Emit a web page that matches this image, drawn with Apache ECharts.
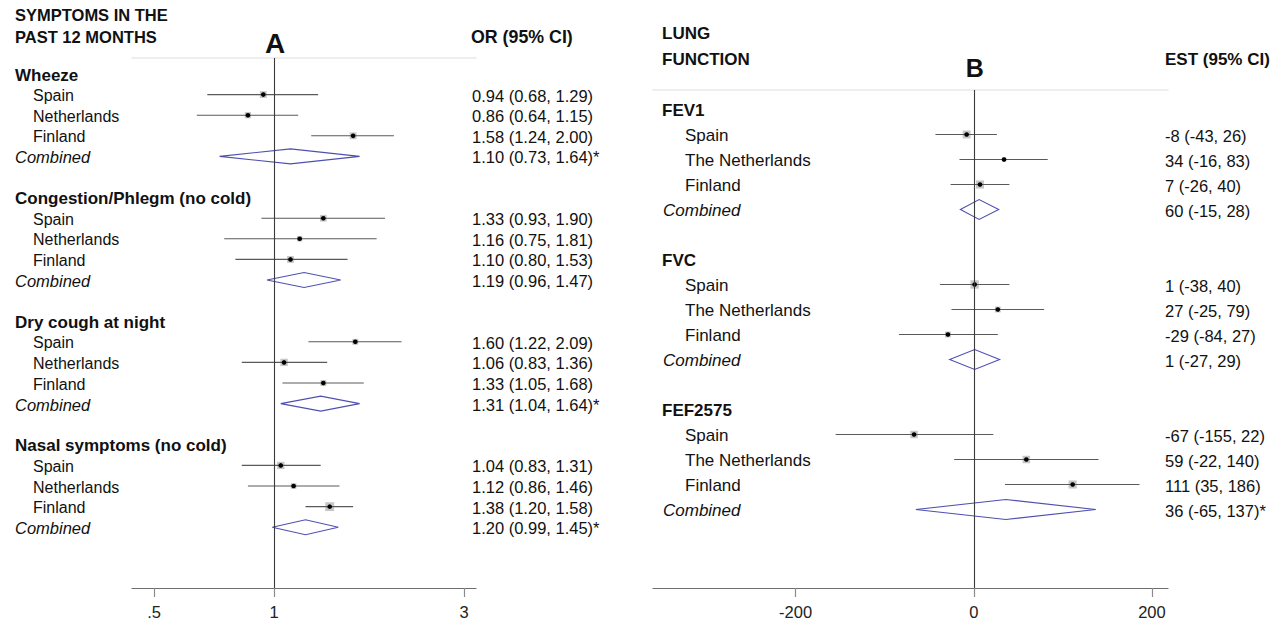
<!DOCTYPE html>
<html><head><meta charset="utf-8">
<script src="https://cdn.jsdelivr.net/npm/echarts@6/dist/echarts.min.js"></script>
<style>html,body{margin:0;padding:0;background:#fff}#c{width:1277px;height:625px}</style>
</head><body><div id="c"></div>
<script>
// ---------- Panel A : symptoms in the past 12 months (odds ratios) ----------
const leftGroups = ['Wheeze', 'Congestion/Phlegm (no cold)', 'Dry cough at night', 'Nasal symptoms (no cold)'];
const leftCountries = ['Spain', 'Netherlands', 'Finland'];
const leftOR = [0.94, 0.86, 1.58, 1.33, 1.16, 1.10, 1.60, 1.06, 1.33, 1.04, 1.12, 1.38];
const leftLo = [0.68, 0.64, 1.24, 0.93, 0.75, 0.80, 1.22, 0.83, 1.05, 0.83, 0.86, 1.20];
const leftHi = [1.29, 1.15, 2.00, 1.90, 1.81, 1.53, 2.09, 1.36, 1.68, 1.31, 1.46, 1.58];
const leftWeight = [30, 25, 30, 28, 18, 30, 22, 35, 22, 34, 20, 50];
const leftCombOR = [1.10, 1.19, 1.31, 1.20];
const leftCombLo = [0.73, 0.96, 1.04, 0.99];
const leftCombHi = [1.64, 1.47, 1.64, 1.45];
const leftCombMark = ['*', '', '*', '*'];
const leftTicks = [0.5, 1, 3];
const leftTickLabels = ['.5', '1', '3'];
const leftRange = [0.44, 3.215];

// ---------- Panel B : lung function (estimates) ----------
const rightGroups = ['FEV1', 'FVC', 'FEF2575'];
const rightCountries = ['Spain', 'The Netherlands', 'Finland'];
const rightEst = [-8, 34, 7, 1, 27, -29, -67, 59, 111];
const rightLo = [-43, -16, -26, -38, -25, -84, -155, -22, 35];
const rightHi = [26, 83, 40, 40, 79, 27, 22, 140, 186];
const rightWeight = [40, 12, 42, 45, 22, 22, 36, 36, 42];
const rightCombEst = [6, 1, 36];
const rightCombLo = [-15, -27, -65];
const rightCombHi = [28, 29, 137];
const rightCombLabels = ['60 (-15, 28)', '1 (-27, 29)', '36 (-65, 137)*'];
const rightTicks = [-200, 0, 200];
const rightTickLabels = ['-200', '0', '200'];
const rightRange = [-360, 218];

const FONT = "'Liberation Sans', Arial, Helvetica, sans-serif";
const ln = Math.log;

// row layout: heading, 3 countries, combined, blank
function rowsFor(nGroups) {
  const out = [];
  for (let g = 0; g < nGroups; g++) out.push({ head: g * 6, countries: [g * 6 + 1, g * 6 + 2, g * 6 + 3], comb: g * 6 + 4 });
  return out;
}
const leftRows = rowsFor(leftGroups.length);
const rightRows = rowsFor(rightGroups.length);

const leftCI = [], leftDia = [];
leftRows.forEach((r, g) => {
  r.countries.forEach((row, k) => {
    const i = g * 3 + k;
    leftCI.push([ln(leftLo[i]), ln(leftHi[i]), ln(leftOR[i]), row, leftWeight[i]]);
  });
  leftDia.push([ln(leftCombLo[g]), ln(leftCombOR[g]), ln(leftCombHi[g]), r.comb]);
});
const rightCI = [], rightDia = [];
rightRows.forEach((r, g) => {
  r.countries.forEach((row, k) => {
    const i = g * 3 + k;
    rightCI.push([rightLo[i], rightHi[i], rightEst[i], row, rightWeight[i]]);
  });
  rightDia.push([rightCombLo[g], rightCombEst[g], rightCombHi[g], r.comb]);
});

function ciItem(params, api) {
  const y = api.value(3);
  const p0 = api.coord([api.value(0), y]);
  const p1 = api.coord([api.value(1), y]);
  const pc = api.coord([api.value(2), y]);
  const s = 1.25 * Math.sqrt(api.value(4));
  return {
    type: 'group', children: [
      { type: 'rect', shape: { x: pc[0] - s / 2, y: pc[1] - s / 2, width: s, height: s }, style: { fill: '#c6c6c6' } },
      { type: 'line', shape: { x1: p0[0], y1: p0[1], x2: p1[0], y2: p1[1] }, style: { stroke: '#5a5a5a', lineWidth: 1.1 } },
      { type: 'circle', shape: { cx: pc[0], cy: pc[1], r: 2.3 }, style: { fill: '#000' } }
    ]
  };
}
function diaItem(h) {
  return function (params, api) {
    const y = api.value(3);
    const a = api.coord([api.value(0), y]);
    const c = api.coord([api.value(1), y]);
    const b = api.coord([api.value(2), y]);
    return {
      type: 'polygon',
      shape: { points: [[a[0], a[1]], [c[0], c[1] - h], [b[0], b[1]], [c[0], c[1] + h]] },
      style: { fill: 'none', stroke: '#4f4fb0', lineWidth: 1.1 }
    };
  };
}

function findLabel(v, ticks, labels, tf) {
  for (let i = 0; i < ticks.length; i++) if (Math.abs(tf(ticks[i]) - v) < 1e-6) return labels[i];
  return '';
}

const axisCommon = {
  axisLine: { onZero: false, lineStyle: { color: '#6e6e6e', width: 1.2 } },
  axisTick: { length: 9, lineStyle: { color: '#8a8a8a', width: 1.2 } },
  splitLine: { show: false },
};
const refLine = (v) => ({
  silent: true, symbol: 'none', label: { show: false },
  lineStyle: { color: '#3a3a3a', width: 1.1, type: 'solid' },
  data: [{ xAxis: v }]
});

const option = {
  animation: false,
  backgroundColor: '#fff',
  grid: [
    { left: 132, width: 344, top: 58, height: 530 },
    { left: 653, width: 515, top: 90, height: 498 }
  ],
  xAxis: [
    Object.assign({}, axisCommon, {
      type: 'value', gridIndex: 0, position: 'bottom', min: ln(leftRange[0]), max: ln(leftRange[1]),
      axisTick: Object.assign({}, axisCommon.axisTick, { customValues: leftTicks.map(ln) }),
      axisLabel: {
        customValues: leftTicks.map(ln), margin: 15, color: '#222', fontSize: 16.5, fontFamily: FONT,
        formatter: (v) => findLabel(v, leftTicks, leftTickLabels, ln)
      }
    }),
    Object.assign({}, axisCommon, {
      type: 'value', gridIndex: 1, position: 'bottom', min: rightRange[0], max: rightRange[1],
      axisTick: Object.assign({}, axisCommon.axisTick, { customValues: rightTicks }),
      axisLabel: {
        customValues: rightTicks, margin: 15, color: '#222', fontSize: 16.5, fontFamily: FONT,
        formatter: (v) => findLabel(v, rightTicks, rightTickLabels, (x) => x)
      }
    }),
    { type: 'value', gridIndex: 0, position: 'top', min: ln(leftRange[0]), max: ln(leftRange[1]),
      axisLine: { onZero: false, lineStyle: { color: '#e9e9e9', width: 1.5 } }, axisTick: { show: false }, axisLabel: { show: false }, splitLine: { show: false } },
    { type: 'value', gridIndex: 1, position: 'top', min: rightRange[0], max: rightRange[1],
      axisLine: { onZero: false, lineStyle: { color: '#e9e9e9', width: 1.5 } }, axisTick: { show: false }, axisLabel: { show: false }, splitLine: { show: false } }
  ],
  yAxis: [
    { type: 'value', gridIndex: 0, inverse: true, min: -0.777, max: 24.95, show: false },
    { type: 'value', gridIndex: 1, inverse: true, min: -0.78, max: 19.14, show: false }
  ],
  series: [
    { type: 'custom', xAxisIndex: 0, yAxisIndex: 0, renderItem: ciItem, data: leftCI, encode: { x: [0, 1, 2], y: 3 }, markLine: refLine(ln(1)), z: 3 },
    { type: 'custom', xAxisIndex: 0, yAxisIndex: 0, renderItem: diaItem(7.5), data: leftDia, encode: { x: [0, 1, 2], y: 3 }, z: 3 },
    { type: 'custom', xAxisIndex: 1, yAxisIndex: 1, renderItem: ciItem, data: rightCI, encode: { x: [0, 1, 2], y: 3 }, markLine: refLine(0), z: 3 },
    { type: 'custom', xAxisIndex: 1, yAxisIndex: 1, renderItem: diaItem(10), data: rightDia, encode: { x: [0, 1, 2], y: 3 }, z: 3 }
  ]
};

const chart = echarts.init(document.getElementById('c'), null, { renderer: 'svg' });
chart.setOption(option);

// ---------- text columns (row positions come from the y scales) ----------
function txt(text, x, y, size, opts) {
  opts = opts || {};
  return {
    type: 'text', x: x, y: y, silent: true,
    style: {
      text: text, fill: '#111', fontSize: size, fontFamily: FONT,
      fontWeight: opts.bold ? 'bold' : 'normal', fontStyle: opts.italic ? 'italic' : 'normal',
      align: opts.align || 'left', verticalAlign: 'middle',
      textAlign: opts.align || 'left', textVerticalAlign: 'middle'
    }
  };
}
const rowY = (grid, row) => chart.convertToPixel({ xAxisIndex: grid, yAxisIndex: grid }, [0, row])[1] + 1;
const els = [];
// Panel A headers
els.push(txt('SYMPTOMS IN THE', 15, 15, 16.5, { bold: true }));
els.push(txt('PAST 12 MONTHS', 15, 37, 16.5, { bold: true }));
els.push(txt('OR (95% CI)', 471, 37, 17.8, { bold: true }));
els.push(txt('A', chart.convertToPixel({ xAxisIndex: 0, yAxisIndex: 0 }, [ln(1), 0])[0] + 1, 43, 28, { bold: true, align: 'center' }));
leftRows.forEach((r, g) => {
  els.push(txt(leftGroups[g], 15, rowY(0, r.head), 17, { bold: true }));
  r.countries.forEach((row, k) => {
    const i = g * 3 + k;
    els.push(txt(leftCountries[k], 33, rowY(0, row), 16));
    els.push(txt(leftOR[i].toFixed(2) + ' (' + leftLo[i].toFixed(2) + ', ' + leftHi[i].toFixed(2) + ')', 472, rowY(0, row), 16.5));
  });
  els.push(txt('Combined', 15, rowY(0, r.comb), 16.5, { italic: true }));
  els.push(txt(leftCombOR[g].toFixed(2) + ' (' + leftCombLo[g].toFixed(2) + ', ' + leftCombHi[g].toFixed(2) + ')' + leftCombMark[g], 472, rowY(0, r.comb), 16.5));
});
// Panel B headers
els.push(txt('LUNG', 662, 33, 17, { bold: true }));
els.push(txt('FUNCTION', 662, 59, 17, { bold: true }));
els.push(txt('EST (95% CI)', 1165, 59, 17, { bold: true }));
els.push(txt('B', chart.convertToPixel({ xAxisIndex: 1, yAxisIndex: 1 }, [0, 0])[0] + 1, 68, 25, { bold: true, align: 'center' }));
rightRows.forEach((r, g) => {
  els.push(txt(rightGroups[g], 662, rowY(1, r.head), 17, { bold: true }));
  r.countries.forEach((row, k) => {
    const i = g * 3 + k;
    els.push(txt(rightCountries[k], 685, rowY(1, row), 17));
    els.push(txt(rightEst[i] + ' (' + rightLo[i] + ', ' + rightHi[i] + ')', 1165, rowY(1, row), 16.5));
  });
  els.push(txt('Combined', 663, rowY(1, r.comb), 17, { italic: true }));
  els.push(txt(rightCombLabels[g], 1165, rowY(1, r.comb), 16.5));
});
chart.setOption({ graphic: { elements: els } });
</script>
</body></html>
